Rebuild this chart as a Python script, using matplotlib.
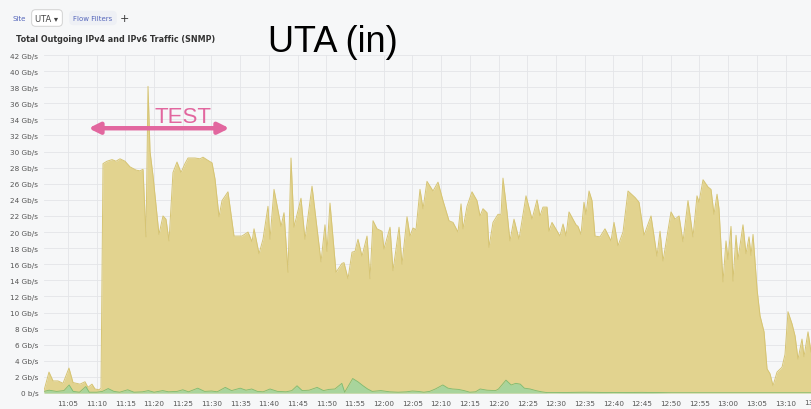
import matplotlib.pyplot as plt
import matplotlib.transforms as mtransforms

# minutes after 11:00 and total traffic (Gb/s)
total_min = [0.82, 1.69, 2.39, 3.26, 4.13, 5.17, 5.87, 7.09, 7.96, 8.48, 9.18, 9.70, 10.40, 10.75,
             11.10, 11.79, 12.67, 13.36, 14.06, 14.93, 15.80, 16.85, 17.54, 18.07, 18.59, 18.94,
             19.29, 19.81, 20.85, 21.55, 22.07, 22.60, 23.29, 23.99, 24.69, 25.38, 25.91, 27.13,
             28.00, 28.52, 29.39, 30.09, 30.61, 31.31, 31.83, 32.87, 33.92, 35.31, 36.36, 37.06,
             37.41, 38.28, 38.97, 39.84, 40.19, 40.89, 42.11, 42.63, 43.33, 43.85, 44.37, 45.59,
             46.29, 47.51, 49.08, 49.77, 50.12, 50.64, 51.69, 52.73, 53.08, 53.78, 54.48, 55.00,
             55.52, 56.22, 57.09, 57.61, 58.14, 58.83, 59.70, 60.05, 61.10, 61.62, 62.67, 63.19,
             64.06, 64.58, 65.10, 65.63, 66.32, 66.85, 67.54, 68.59, 69.46, 70.33, 71.38, 72.07,
             72.94, 73.47, 73.82, 74.51, 75.38, 76.25, 76.78, 77.30, 78.00, 78.34, 79.04, 79.91,
             80.44, 80.78, 81.48, 82.00, 82.70, 83.57, 84.79, 85.84, 86.71, 87.23, 87.75, 88.45,
             88.80, 89.32, 90.71, 91.24, 91.76, 92.28, 93.50, 93.85, 94.37, 94.89, 95.24, 95.77,
             96.29, 96.81, 97.68, 98.55, 99.60, 100.12, 100.82, 101.69, 102.56, 103.78, 104.48,
             105.35, 106.57, 107.61, 108.14, 108.66, 110.05, 110.75, 111.45, 112.14, 113.01,
             113.88, 114.58, 114.93, 115.63, 116.50, 117.02, 117.54, 118.07, 118.41, 119.11,
             119.63, 119.98, 120.50, 120.85, 121.38, 121.72, 122.59, 123.12, 123.64, 123.99,
             124.34, 125.04, 125.56, 126.26, 126.78, 127.30, 127.82, 128.52, 129.39, 129.91,
             130.43, 131.13, 131.66, 132.18, 132.87, 133.22, 133.92, 134.44]
total_gbps = [0.3, 2.6, 1.5, 1.5, 1.2, 3.1, 1.3, 1.1, 1.4, 0.7, 1.1, 0.5, 0.4, 0.6,
              28.5, 28.8, 29.0, 28.8, 29.1, 28.8, 28.1, 27.7, 27.6, 27.8, 19.4, 38.1,
              30.0, 27.0, 19.7, 22.0, 21.6, 18.9, 27.4, 28.7, 27.4, 28.5, 29.2, 29.2,
              29.1, 29.3, 28.9, 28.6, 26.6, 21.9, 23.9, 25.0, 19.5, 19.5, 20.0, 18.8,
              20.4, 17.3, 19.1, 23.2, 19.1, 25.3, 20.7, 22.4, 15.0, 29.2, 20.6, 24.2,
              19.1, 25.7, 16.3, 20.9, 17.6, 23.6, 15.0, 16.1, 16.2, 14.2, 17.5, 17.6,
              19.1, 17.0, 19.5, 14.2, 21.4, 20.4, 20.1, 17.9, 20.6, 15.2, 20.6, 16.0,
              21.9, 19.5, 20.5, 20.3, 25.3, 22.9, 26.3, 25.1, 26.2, 23.9, 21.4, 21.2,
              20.0, 23.5, 20.4, 23.2, 25.0, 23.9, 22.0, 22.9, 22.4, 18.1, 21.2, 22.2,
              22.2, 26.7, 22.5, 18.9, 21.6, 19.1, 24.5, 21.6, 24.0, 22.0, 23.1, 23.1,
              20.1, 21.2, 19.5, 21.0, 19.5, 22.5, 20.9, 20.7, 19.7, 23.7, 22.2, 25.1,
              23.9, 19.5, 19.4, 20.4, 18.9, 21.2, 18.3, 20.0, 25.1, 24.3, 23.7,
              19.6, 22.0, 17.0, 20.1, 16.4, 22.5, 21.6, 22.0, 18.8, 23.9,
              19.4, 24.5, 23.7, 26.5, 25.6, 25.3, 22.2, 24.7, 22.9, 13.8,
              18.9, 16.6, 20.7, 13.9, 19.6, 16.6, 20.9, 17.3, 19.4, 17.1,
              19.7, 12.9, 9.6, 7.6, 3.0, 2.4, 0.9, 2.6, 3.2, 4.8,
              10.1, 8.6, 7.1, 4.2, 6.7, 4.5, 7.6, 5.1]

# second (green) series
green_min = [0.82, 1.7, 3.0, 4.3, 5.2, 5.9, 7.0, 8.1, 8.7, 10.0, 11.0, 12.0, 13.0, 14.0, 15.4,
             16.5, 18.0, 19.0, 20.0, 21.5, 22.5, 24.0, 25.0, 26.0, 27.6, 28.8, 30.0, 31.0,
             32.4, 33.5, 35.0, 36.0, 37.0, 38.0, 39.0, 40.2, 41.5, 43.0, 44.0, 44.9, 45.8,
             47.0, 48.4, 49.5, 50.5, 51.5, 52.7, 53.2, 54.6, 55.5, 56.4, 57.2, 58.0, 59.5,
             61.0, 62.5, 64.0, 65.0, 66.0, 67.0, 68.0, 69.0, 70.3, 71.2, 72.0, 73.0, 74.0,
             75.0, 76.0, 76.8, 78.0, 79.5, 80.0, 81.3, 82.2, 83.0, 83.8, 84.5, 85.5, 86.5,
             87.5, 88.5, 90.0, 95.0, 100.0, 105.0, 110.0, 120.0, 134.44]
green_gbps = [0.2, 0.35, 0.2, 0.3, 1.0, 0.2, 0.1, 0.8, 0.1, 0.1, 0.2, 0.55, 0.2, 0.1, 0.4,
              0.1, 0.15, 0.3, 0.1, 0.3, 0.15, 0.2, 0.4, 0.15, 0.6, 0.2, 0.25, 0.15,
              0.7, 0.3, 0.6, 0.35, 0.5, 0.2, 0.15, 0.5, 0.2, 0.15, 0.3, 0.9, 0.3,
              0.35, 0.7, 0.3, 0.45, 0.5, 1.2, 0.1, 1.8, 1.4, 0.9, 0.5, 0.2, 0.3,
              0.15, 0.1, 0.15, 0.25, 0.2, 0.1, 0.2, 0.5, 1.0, 0.6, 0.5, 0.45, 0.3,
              0.1, 0.15, 0.5, 0.35, 0.3, 0.5, 1.6, 1.0, 1.2, 1.1, 0.6, 0.5, 0.3,
              0.15, 0.05, 0.05, 0.1, 0.05, 0.08, 0.03, 0.03, 0.03]

x_ticks = list(range(5, 135, 5))
x_labels = ['11:05', '11:10', '11:15', '11:20', '11:25', '11:30', '11:35', '11:40', '11:45',
            '11:50', '11:55', '12:00', '12:05', '12:10', '12:15', '12:20', '12:25', '12:30',
            '12:35', '12:40', '12:45', '12:50', '12:55', '13:00', '13:05', '13:10']
y_ticks = list(range(0, 43, 2))
y_labels = ['0 b/s'] + [f'{v} Gb/s' for v in y_ticks[1:]]

bg = '#f6f7f8'
fig = plt.figure(figsize=(8.11, 4.10), dpi=100, facecolor=bg)
ax = fig.add_axes([44 / 811, 1 - 394 / 410, 767 / 811, 338 / 410], facecolor=bg)

ax.fill_between(total_min, total_gbps, color='#e2d38f', lw=0)
ax.plot(total_min, total_gbps, color='#d6c473', lw=0.7)
ax.fill_between(green_min, green_gbps, color='#a8d49c', lw=0)
ax.plot(green_min, green_gbps, color='#7dbb70', lw=0.6)

ax.set_xlim(total_min[0], total_min[-1])
ax.set_ylim(0, 42)
ax.set_xticks(x_ticks)
ax.set_xticklabels(x_labels)
ax.set_yticks(y_ticks)
ax.set_yticklabels(y_labels)
ax.tick_params(axis='both', length=0, labelsize=5.2, colors='#555555')
ax.tick_params(axis='x', pad=5)
ax.tick_params(axis='y', pad=4)
ax.grid(True, color='#e3e5e8', lw=0.6)
ax.set_axisbelow(True)
for s in ax.spines.values():
    s.set_visible(False)

# last time label cut off at the right edge
trans = mtransforms.blended_transform_factory(ax.transData, ax.transAxes)
ax.text(135, -0.019, '13:15', transform=trans, ha='center', va='top', fontsize=5.2,
        color='#555555', clip_on=False)

# TEST arrow
ax.annotate('', xy=(8.1, 32.9), xytext=(33.6, 32.9),
            arrowprops=dict(arrowstyle='<|-|>', color='#e2679f', lw=3.2, mutation_scale=16))
ax.text(25.0, 34.3, 'TEST', color='#e2679f', fontsize=16, ha='center', va='center',
        family='Liberation Sans')

# header
fig.text(333 / 811, 1 - 42 / 410, 'UTA (in)', fontsize=26, ha='center', va='center',
         family='Liberation Sans', color='black')
fig.text(16 / 811, 1 - 40 / 410, 'Total Outgoing IPv4 and IPv6 Traffic (SNMP)', fontsize=5.8,
         fontweight='bold', color='#333333', va='center')
fig.text(19 / 811, 1 - 19 / 410, 'Site', fontsize=5, color='#5566bb', ha='center', va='center')
fig.text(47 / 811, 1 - 19 / 410, 'UTA \u25be', fontsize=6, color='#444444', ha='center', va='center',
         bbox=dict(boxstyle='round,pad=0.45', fc='white', ec='#cccccc', lw=0.6))
fig.text(93 / 811, 1 - 19 / 410, 'Flow Filters', fontsize=5, color='#5566bb', ha='center', va='center',
         bbox=dict(boxstyle='round,pad=0.6', fc='#eef0f5', ec='none'))
fig.text(124 / 811, 1 - 19 / 410, '+', fontsize=8, color='#333333', ha='center', va='center')

fig.savefig('out.png', dpi=100, facecolor=bg)
